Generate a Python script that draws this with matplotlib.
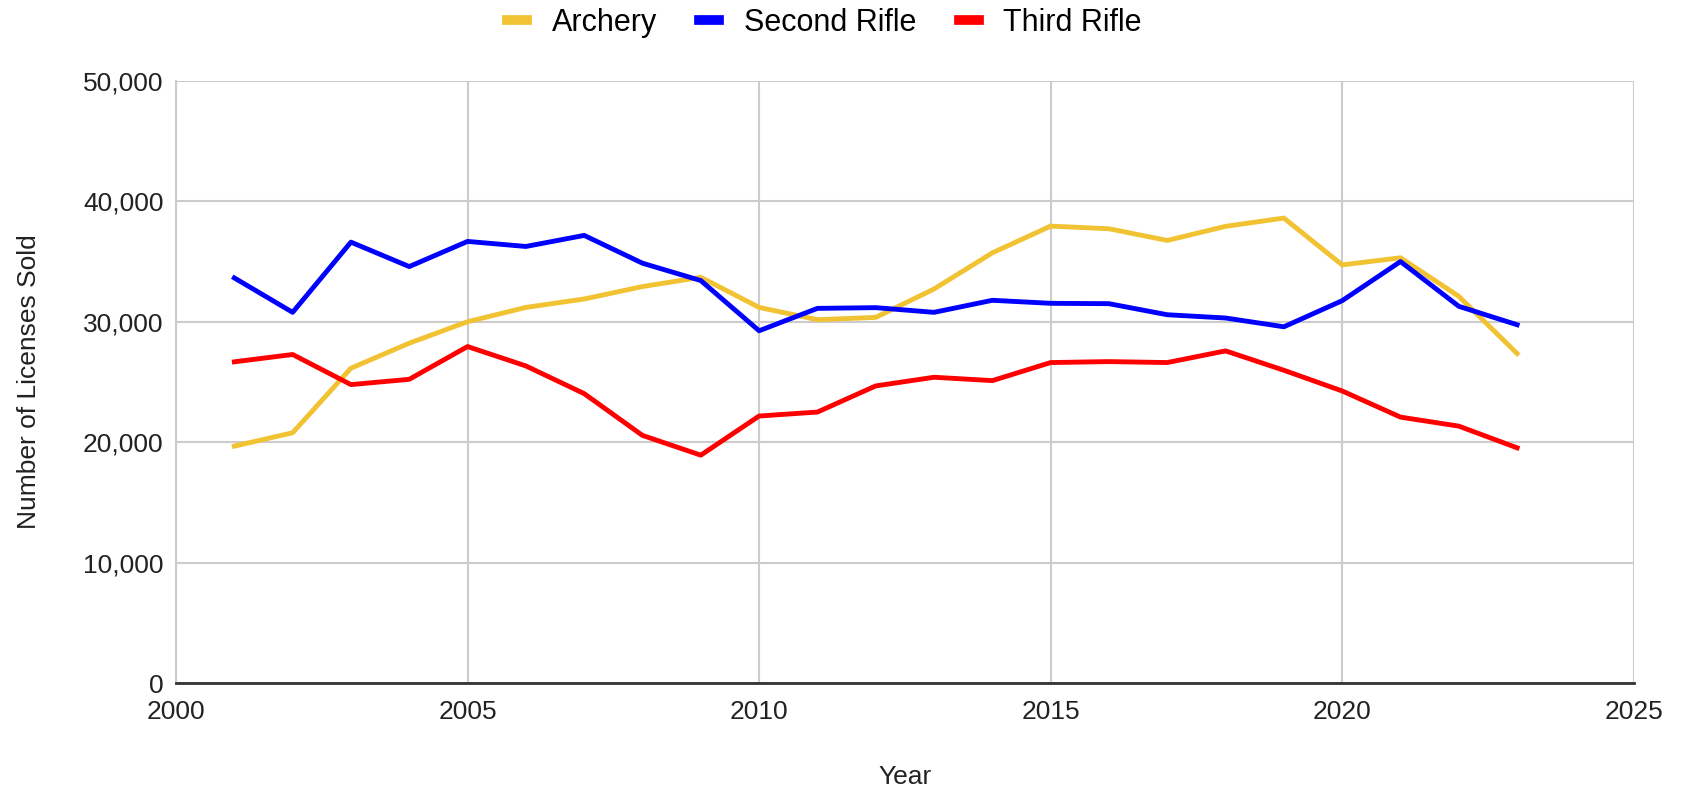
import matplotlib.pyplot as plt
from matplotlib.lines import Line2D
from matplotlib.ticker import FuncFormatter

plt.rcParams['font.family'] = ['Liberation Sans', 'DejaVu Sans']

# Data
years = list(range(2001, 2024))
archery = [19670, 20780, 26140, 28220, 30000, 31190, 31890, 32920, 33690, 31190,
           30170, 30360, 32720, 35720, 37940, 37720, 36750, 37920, 38610, 34720,
           35310, 32110, 27360]
second_rifle = [33640, 30780, 36610, 34580, 36670, 36250, 37170, 34860, 33420, 29250,
                31110, 31170, 30780, 31780, 31530, 31500, 30580, 30310, 29580, 31750,
                35000, 31280, 29750]
third_rifle = [26670, 27280, 24780, 25220, 27940, 26330, 24030, 20560, 18920, 22170,
               22500, 24670, 25390, 25110, 26610, 26690, 26610, 27580, 25970, 24250,
               22080, 21330, 19530]

series = ["Archery", "Second Rifle", "Third Rifle"]
colors = ["#F1C232", "#0000FF", "#FF0000"]

fig = plt.figure(figsize=(16.86, 7.93), dpi=100)
ax = fig.add_axes([0.1044, 0.1387, 0.8646, 0.7593])

for name, vals, c in zip(series, [archery, second_rifle, third_rifle], colors):
    ax.plot(years, vals, color=c, linewidth=3.5, label=name, zorder=3)

ax.set_xlim(2000, 2025)
ax.set_ylim(0, 50000)
ax.set_xticks(range(2000, 2026, 5))
ax.set_yticks(range(0, 50001, 10000))
ax.yaxis.set_major_formatter(FuncFormatter(lambda v, p: f"{int(v):,}"))
ax.grid(True, color="#CCCCCC", linewidth=1.5)
ax.tick_params(length=0, labelsize=19, colors="#222222")
ax.tick_params(axis="y", pad=9)
ax.tick_params(axis="x", pad=12)

for s in ["top", "right"]:
    ax.spines[s].set_visible(False)
ax.spines["left"].set_color("#CCCCCC")
ax.spines["left"].set_linewidth(1.5)
ax.spines["bottom"].set_color("#333333")
ax.spines["bottom"].set_linewidth(2)

ax.set_xlabel("Year", fontsize=19, color="#222222", labelpad=30)
ax.set_ylabel("Number of Licenses Sold", fontsize=19, color="#222222", labelpad=30)

handles = [Line2D([], [], color=c, linewidth=7) for c in colors]
fig.legend(handles, series, loc="upper center", bbox_to_anchor=(0.489, 1.025),
           ncol=3, frameon=False, fontsize=22, handlelength=0.65,
           handletextpad=0.8, columnspacing=1.4)

fig.savefig("out.png", dpi=100)
